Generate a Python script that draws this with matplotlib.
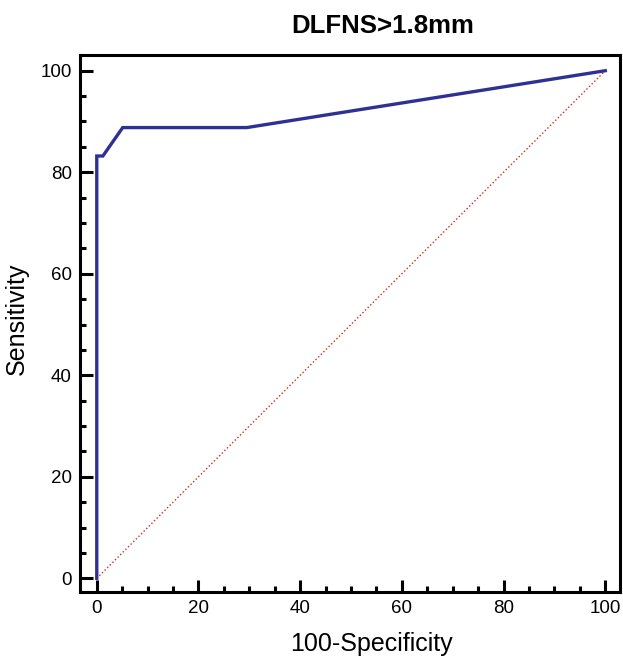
import matplotlib
matplotlib.use("Agg")
import matplotlib.pyplot as plt
from matplotlib.ticker import MultipleLocator

plt.rcParams['font.family'] = ['Liberation Sans', 'DejaVu Sans']

# ROC curve points (100-Specificity, Sensitivity)
fpr = [0, 0, 1.2, 5.1, 29.5, 100]
tpr = [0, 83.2, 83.2, 88.8, 88.8, 100]
diag = [0, 100]
title = "DLFNS>1.8mm"

fig = plt.figure(figsize=(6.23, 6.57), dpi=100)
ax = fig.add_axes([0.1284, 0.0989, 0.8668, 0.8174])

ax.plot(diag, diag, color="#c0302a", linestyle=":", linewidth=1.0)
ax.plot(fpr, tpr, color="#2f3192", linewidth=2.4, solid_joinstyle="miter")

ax.set_xlim(-3.3, 102.9)
ax.set_ylim(-2.7, 103.1)
ax.xaxis.set_major_locator(MultipleLocator(20))
ax.xaxis.set_minor_locator(MultipleLocator(5))
ax.yaxis.set_major_locator(MultipleLocator(20))
ax.yaxis.set_minor_locator(MultipleLocator(5))

for s in ax.spines.values():
    s.set_linewidth(2.2)
ax.tick_params(which="major", direction="in", length=9, width=2.2,
               labelsize=13.5, pad=6)
ax.tick_params(which="minor", direction="in", length=4.5, width=2.2)

ax.set_xlabel("100-Specificity", fontsize=18)
ax.set_ylabel("Sensitivity", fontsize=18)
ax.xaxis.set_label_coords(0.539, -0.075)
ax.yaxis.set_label_coords(-0.095, 0.508)
ax.set_title(title, fontsize=18.5, fontweight="bold", x=0.561, y=1.025)

fig.savefig("out.png", dpi=100)
